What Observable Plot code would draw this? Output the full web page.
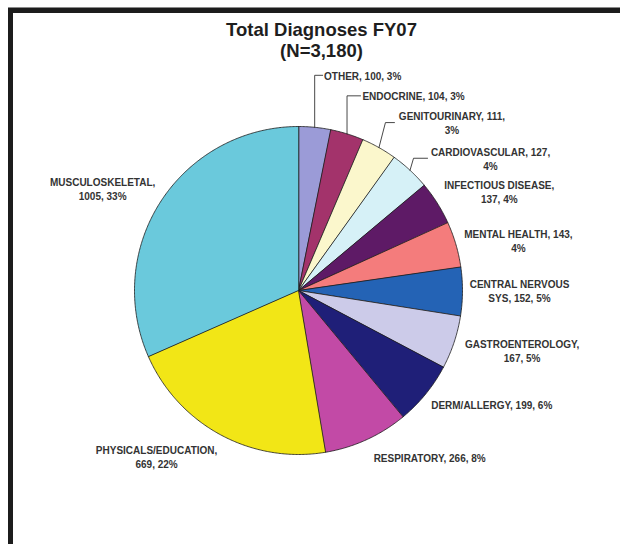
<!DOCTYPE html>
<html>
<head>
<meta charset="utf-8">
<script src="https://cdn.jsdelivr.net/npm/d3@7"></script>
<script src="https://cdn.jsdelivr.net/npm/@observablehq/plot@0.6"></script>
<style>
  html, body { margin: 0; padding: 0; background: #ffffff; }
  #page { position: relative; width: 620px; height: 544px; overflow: hidden; background: #ffffff; }
  #greyline { position: absolute; left: 8px; top: 7px; width: 612px; height: 1px; background: #8a8a8a; }
  #frame { position: absolute; left: 8px; top: 8px; width: 612px; height: 536px; box-sizing: border-box;
           border-top: 5px solid #1c1c1c; border-left: 5px solid #1c1c1c; }
  #title { position: absolute; left: 0; top: 20.3px; width: 643px; text-align: center;
           font-family: "Liberation Sans", Arial, sans-serif; font-weight: bold; font-size: 18.5px;
           line-height: 20.5px; color: #1e1e1e; }
  #chart { position: absolute; left: 0; top: 0; }
</style>
</head>
<body>
<div id="page">
  <div id="greyline"></div>
  <div id="frame"></div>
  <div id="title">Total Diagnoses FY07<br>(N=3,180)</div>
  <div id="chart"></div>
</div>
<script>
// ---- data ----
const categories = ["OTHER", "ENDOCRINE", "GENITOURINARY", "CARDIOVASCULAR", "INFECTIOUS DISEASE",
  "MENTAL HEALTH", "CENTRAL NERVOUS SYS", "GASTROENTEROLOGY", "DERM/ALLERGY", "RESPIRATORY",
  "PHYSICALS/EDUCATION", "MUSCULOSKELETAL"];
const counts = [100, 104, 111, 127, 137, 143, 152, 167, 199, 266, 669, 1005];
const percents = [3, 3, 3, 4, 4, 4, 5, 5, 6, 8, 22, 33];
const colors = ["#9b9bd7", "#a3336b", "#fbf7cc", "#d6f1f7", "#5e1a66", "#f47c7c",
  "#2463b5", "#cccbe9", "#1f1f78", "#c24aa6", "#f2e616", "#6ac9dc"];

// ---- layout ----
const CX = 298, CY = 290, R = 164;
// words on the first label line (0 = single line)
const labelBreakAfter = [0, 0, 2, 2, 2, 3, 2, 1, 0, 0, 1, 1];
// label block centre, pixel offset from the slice's outer mid point
const labelOffset = [[48, -52], [66.5, -38], [73, -25], [80.5, -12], [62, -12], [62.5, -4],
  [57, -0.5], [68, 8], [66, 10.5], [63, 18], [-64, 22], [-58.5, -12.5]];
// leader lines: [elbow dx, end dx] (pixels), or null
const leaders = [[0, 8], [0, 13.5], [6.5, 15.5], [3.5, 17.5], null, null, null, null, null, null, null, null];

const pie = d3.pie().sort(null).value(d => d)(counts);

const slicePts = [];
pie.forEach((s, i) => {
  const n = Math.max(2, Math.ceil((s.endAngle - s.startAngle) / (Math.PI / 360)));
  slicePts.push({name: categories[i], color: colors[i], x: 0, y: 0});
  for (let k = 0; k <= n; ++k) {
    const a = s.startAngle + (s.endAngle - s.startAngle) * k / n;
    slicePts.push({name: categories[i], color: colors[i], x: Math.sin(a), y: Math.cos(a)});
  }
});

const labels = [];
const leaderPts = [];
pie.forEach((s, i) => {
  const mid = (s.startAngle + s.endAngle) / 2;
  const px = Math.sin(mid), py = Math.cos(mid);
  const [dx, dy] = labelOffset[i];
  const words = `${categories[i]}, ${counts[i]}, ${percents[i]}%`.split(" ");
  const b = labelBreakAfter[i];
  const text = b ? words.slice(0, b).join(" ") + "\n" + words.slice(b).join(" ") : words.join(" ");
  labels.push({x: px + dx / R, y: py - dy / R, text});
  if (leaders[i]) {
    const [ex, endx] = leaders[i];
    leaderPts.push({z: i, x: px, y: py});
    leaderPts.push({z: i, x: px + ex / R, y: py - dy / R});
    leaderPts.push({z: i, x: px + endx / R, y: py - dy / R});
  }
});

const chart = Plot.plot({
  width: 620,
  height: 544,
  margin: 0,
  style: {background: "transparent", overflow: "visible"},
  x: {domain: [-1, 1], range: [CX - R, CX + R], axis: null},
  y: {domain: [-1, 1], range: [CY + R, CY - R], axis: null},
  color: {type: "identity"},
  marks: [
    Plot.line(slicePts, {x: "x", y: "y", z: "name", fill: "color", stroke: "#1a1a1a",
      strokeWidth: 0.8, curve: "linear-closed"}),
    Plot.line(leaderPts, {x: "x", y: "y", z: "z", stroke: "#333333", strokeWidth: 0.9}),
    Plot.text(labels, {x: "x", y: "y", text: "text", fontSize: 10, fontWeight: "bold",
      fontFamily: "Liberation Sans, Arial, sans-serif", fill: "#333333",
      textAnchor: "middle", lineAnchor: "middle", lineHeight: 1.4})
  ]
});
document.getElementById("chart").appendChild(chart);
</script>
</body>
</html>
